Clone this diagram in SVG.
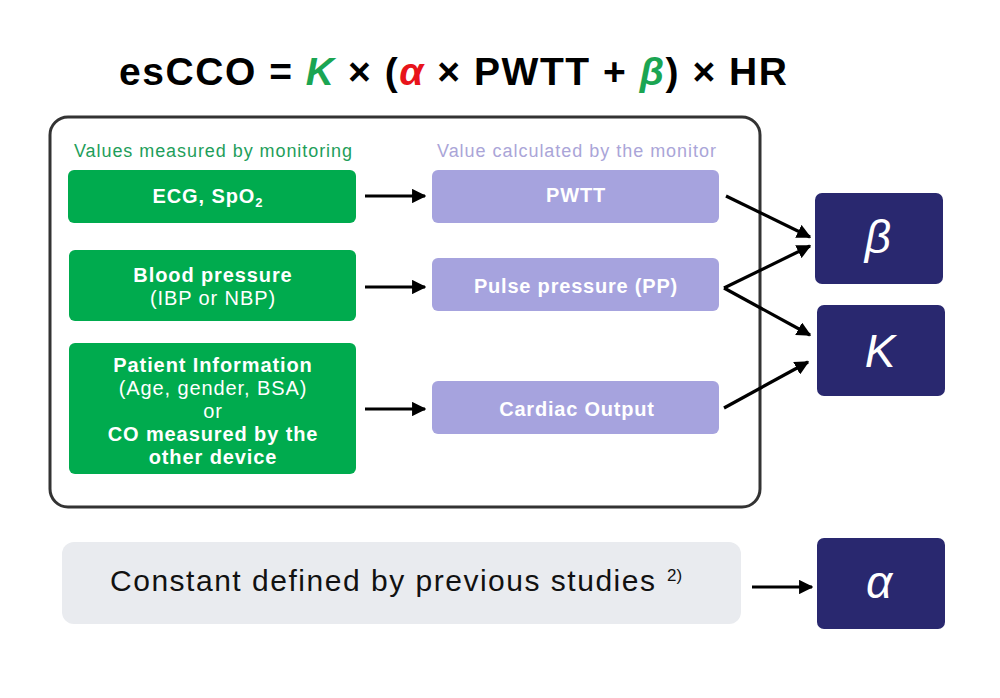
<svg xmlns="http://www.w3.org/2000/svg" width="1000" height="698" viewBox="0 0 1000 698">
<defs>
<marker id="ah" viewBox="0 0 10 10" refX="9" refY="5" markerWidth="4.5" markerHeight="4.5" orient="auto" markerUnits="strokeWidth">
<path d="M0,0 L10,5 L0,10 z" fill="#000"/>
</marker>
<style>
text{font-family:"Liberation Sans",Arial,sans-serif}
.g{fill:#00ab4e}
.p{fill:#a6a3de}
.n{fill:#29286f}
.w{fill:#fff;font-size:20px;text-anchor:middle;letter-spacing:0.9px}
.pw{fill:#fff;font-size:20px;text-anchor:middle;letter-spacing:0.8px;font-weight:bold}
.b{font-weight:bold}
.gr{fill:#fff;font-size:46px;font-style:italic;text-anchor:middle}
.c{stroke:#000;stroke-width:3.2;fill:none;marker-end:url(#ah)}
</style>
</defs>
<rect width="1000" height="698" fill="#fff"/>
<text x="119" y="85" textLength="668" lengthAdjust="spacing" font-size="39" font-weight="bold" fill="#000">esCCO = <tspan fill="#1ba552" font-style="italic">K</tspan> × (<tspan fill="#e8141b" font-style="italic">α</tspan> × PWTT + <tspan fill="#1ba552" font-style="italic">β</tspan>) × HR</text>
<rect id="frame" x="50" y="117" width="710" height="390" rx="18" fill="none" stroke="#333" stroke-width="3"/>
<text x="74" y="157" textLength="278" lengthAdjust="spacing" font-size="18" fill="#1e9e5a">Values measured by monitoring</text>
<text x="437" y="157" textLength="279" lengthAdjust="spacing" font-size="18" fill="#aaa5d8">Value calculated by the monitor</text>
<g id="ecg"><rect class="g" x="68" y="170" width="288" height="53" rx="6"/><text class="w b" x="208" y="203">ECG, SpO<tspan font-size="13" dy="4">2</tspan></text></g>
<g id="bp"><rect class="g" x="69" y="250" width="287" height="71" rx="6"/><text class="w b" x="213" y="282">Blood pressure</text><text class="w" x="213" y="305">(IBP or NBP)</text></g>
<g id="patient"><rect class="g" x="69" y="343" width="287" height="131" rx="6"/>
<text class="w b" x="213" y="372">Patient Information</text>
<text class="w" x="213" y="395">(Age, gender, BSA)</text>
<text class="w" x="213" y="418">or</text>
<text class="w b" x="213" y="441">CO measured by the</text>
<text class="w b" x="213" y="464">other device</text></g>
<g id="pwtt"><rect class="p" x="432" y="170" width="287" height="53" rx="6"/><text class="pw" x="576" y="202">PWTT</text></g>
<g id="pp"><rect class="p" x="432" y="258" width="287" height="53" rx="6"/><text class="pw" x="576" y="293">Pulse pressure (PP)</text></g>
<g id="co"><rect class="p" x="432" y="381" width="287" height="53" rx="6"/><text class="pw" x="577" y="416">Cardiac Output</text></g>
<g id="beta"><rect class="n" x="815" y="193" width="128" height="91" rx="7"/><text class="gr" x="878" y="253">β</text></g>
<g id="k"><rect class="n" x="817" y="305" width="128" height="91" rx="7"/><text class="gr" x="880" y="367">K</text></g>
<g id="alpha"><rect class="n" x="817" y="538" width="128" height="91" rx="7"/><text class="gr" x="879" y="598">α</text></g>
<g id="constant"><rect x="62" y="542" width="679" height="82" rx="12" fill="#e9ebef"/><text x="110" y="591" textLength="545" lengthAdjust="spacing" font-size="30" fill="#111">Constant defined by previous studies</text><text x="667" y="581" font-size="17" fill="#111">2)</text></g>
<g id="connectors">
<line class="c" x1="365" y1="196" x2="425" y2="196"/>
<line class="c" x1="365" y1="287" x2="425" y2="287"/>
<line class="c" x1="365" y1="409" x2="425" y2="409"/>
<line class="c" x1="726" y1="196" x2="810" y2="237"/>
<line class="c" x1="724" y1="288" x2="810" y2="246"/>
<line class="c" x1="724" y1="288" x2="810" y2="335"/>
<line class="c" x1="724" y1="408" x2="808" y2="362"/>
<line class="c" x1="752" y1="587" x2="812" y2="587"/>
</g>
</svg>
